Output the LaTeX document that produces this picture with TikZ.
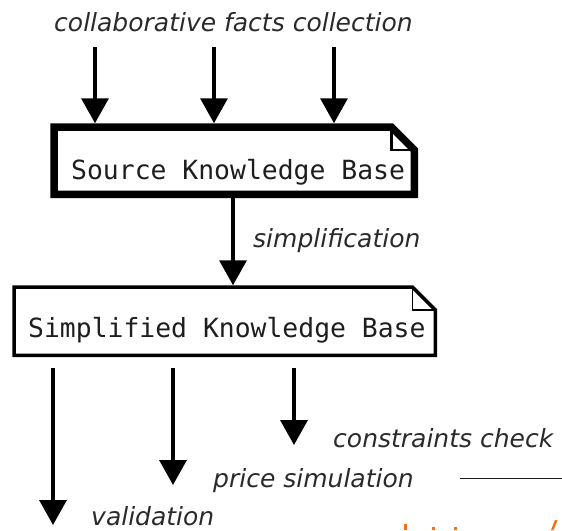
\documentclass[tikz,border=0pt]{standalone}
\usepackage{fontspec}
\setmainfont{DejaVu Sans}
\setmonofont{DejaVu Sans Mono}
\usetikzlibrary{arrows.meta}
\definecolor{ink}{HTML}{1E1E1E}
\definecolor{lab}{HTML}{2A2A2A}
\definecolor{frag}{HTML}{FF6A10}
\begin{document}
\begin{tikzpicture}[x=1pt,y=-1pt,
  flow/.style={line width=3.5pt,-{Triangle[length=25pt,width=27pt]}},
  lab/.style={font=\fontsize{25}{30}\selectfont\itshape,text=lab,inner sep=0,anchor=base west},
  kbtext/.style={font=\fontsize{26.4}{30}\selectfont\ttfamily,text=ink,inner sep=0,anchor=base west},
  kbbox/.style={minimum width=#1,inner sep=0,anchor=north west},
]
\useasboundingbox (0,0) rectangle (562,530);

% invisible frames of the two knowledge bases
\node[kbbox=360pt,minimum height=67pt] (src) at (54,127) {};
\node[kbbox=421pt,minimum height=68pt] (simp) at (14,287) {};

% Source Knowledge Base outline (thick, folded corner)
\draw[line width=7.5pt,line join=miter]
  (src.north west) -- ([xshift=-23pt]src.north east) -- ([yshift=-23pt]src.north east)
  -- (src.south east) -- (src.south west) -- cycle;
\draw[line width=2.5pt] ([xshift=-23pt]src.north east) |- ([yshift=-23pt]src.north east);
\node[kbtext] (srct) at (71,179) {Source Knowledge Base};

% Simplified Knowledge Base outline
\draw[line width=3.5pt,line join=miter]
  (simp.north west) -- ([xshift=-23pt]simp.north east) -- ([yshift=-23pt]simp.north east)
  -- (simp.south east) -- (simp.south west) -- cycle;
\draw[line width=1.6pt] ([xshift=-23pt]simp.north east) |- ([yshift=-23pt]simp.north east);
\node[kbtext] (simpt) at (28,337) {Simplified Knowledge Base};

% collaborative facts collection
\node[lab] (coll) at (54,31) {collaborative facts collection};
\coordinate (c1) at (95,47);
\coordinate (c2) at (214,47);
\coordinate (c3) at (334,47);
\foreach \c in {c1,c2,c3}
  \draw[flow,shorten >=3.75pt] (\c) -- (\c |- src.north);

% simplification
\draw[flow,shorten >=1.75pt] (src.south -| 233,0) -- (simp.north -| 233,0);
\node[lab] (simpl) at (253,247) {simplification};

% outgoing checks
\coordinate (vt) at (53,525);
\coordinate (pt) at (173,485);
\coordinate (ct) at (294,445);
\foreach \c in {vt,pt,ct}
  \draw[flow,shorten <=13pt] (\c |- simp.south) -- (\c);
\node[lab] (cons) at (333,447) {constraints check};
\node[lab] (price) at (213,487) {price simulation};
\node[lab] (valid) at (91,525) {validation};

% stray line and clipped fragments at the edge
\draw[line width=1pt,ink] (460,478) -- (562,478);
\fill[frag] (404,524) rectangle (406.5,530);
\fill[frag] (432,527) rectangle (434.5,530);
\fill[frag] (454,527) rectangle (456.5,530);
\fill[frag] (551,530) -- (553.5,530) -- (557.5,520) -- (555,520) -- cycle;
\end{tikzpicture}
\end{document}
